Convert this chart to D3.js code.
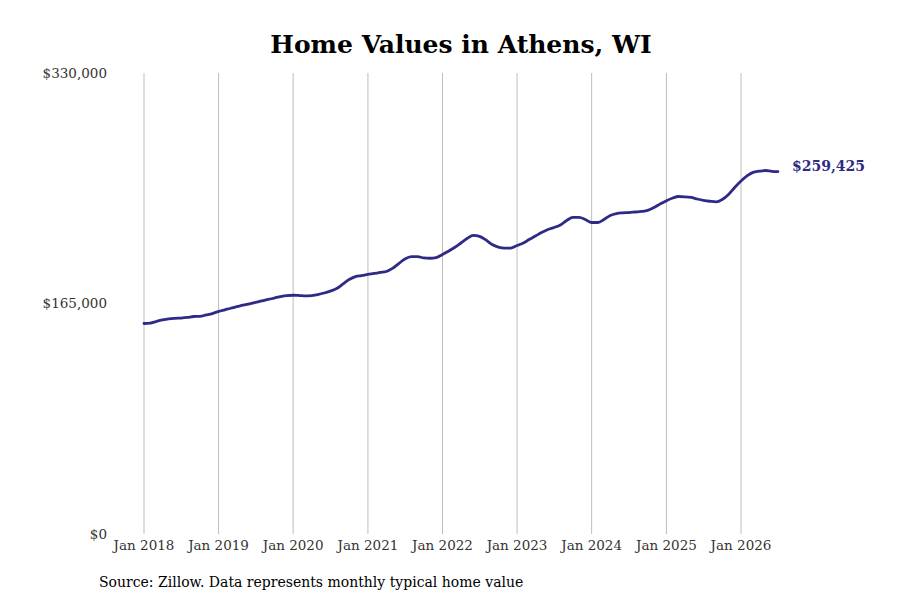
<!DOCTYPE html>
<html>
<head>
<meta charset="utf-8">
<script src="https://cdn.jsdelivr.net/npm/d3@7"></script>
<style>
  html, body { margin: 0; padding: 0; background: #fff; }
  svg { display: block; }
</style>
</head>
<body>
<svg id="chart" width="900" height="600"></svg>
<script>
const title = "Home Values in Athens, WI";
const source = "Source: Zillow. Data represents monthly typical home value";
const startYear = 2018;
const startMonth = 0; // January
const values = [
  150700, 151000, 152100, 153200, 154000, 154400, 154600, 155000, 155700, 155800, 156800, 157800,
  159300, 160500, 161600, 162700, 163800, 164800, 165800, 166800, 167900, 168900, 170000, 170700,
  170900, 170700, 170400, 170700, 171400, 172500, 173900, 175700, 179000, 182200, 184300, 185000,
  185800, 186500, 187200, 187900, 190100, 193600, 196900, 198600, 198600, 197600, 197400, 197900,
  200100, 202600, 205100, 208300, 211500, 213700, 213000, 210500, 207200, 205400, 204700, 204700,
  206500, 208300, 210800, 213300, 215800, 218000, 219400, 221200, 224400, 226600, 226600, 225100,
  223000, 223000, 225100, 228000, 229400, 229900, 230100, 230500, 230900, 231600, 233700, 236200,
  238600, 240500, 241600, 241400, 240900, 239800, 238900, 238200, 237700, 239400, 243000, 248000,
  252700, 256600, 258900, 259700, 260200, 259600, 259425
];
const xTickLabels = ["Jan 2018", "Jan 2019", "Jan 2020", "Jan 2021", "Jan 2022", "Jan 2023", "Jan 2024", "Jan 2025", "Jan 2026"];
const yTickValues = [0, 165000, 330000];
const lastLabel = "$259,425";

const data = values.map((v, i) => ({ date: new Date(startYear, startMonth + i, 1), value: v }));
const tickDates = xTickLabels.map((s, i) => new Date(startYear + i, 0, 1));

const svg = d3.select("#chart");
const color = "#2e2a86";
const font = "'DejaVu Serif', serif";

const x = d3.scaleTime()
  .domain([new Date(2018, 0, 1), new Date(2026, 0, 1)])
  .range([144, 741]);
const y = d3.scaleLinear().domain([0, 330000]).range([534, 73]);

// title
svg.append("text")
  .attr("x", 461).attr("y", 53)
  .attr("text-anchor", "middle")
  .attr("font-family", font).attr("font-weight", "bold")
  .attr("font-size", 25).attr("fill", "#000")
  .text(title);

// vertical grid lines
svg.append("g").selectAll("line").data(tickDates).join("line")
  .attr("x1", d => x(d)).attr("x2", d => x(d))
  .attr("y1", y(330000)).attr("y2", 534)
  .attr("stroke", "#bdbdbd").attr("stroke-width", 1);

// x labels
svg.append("g").selectAll("text").data(tickDates).join("text")
  .attr("x", d => x(d)).attr("y", 550)
  .attr("text-anchor", "middle")
  .attr("font-family", font).attr("font-size", 13.5).attr("fill", "#333")
  .text((d, i) => xTickLabels[i]);

// y labels
const fmt = d3.format("$,");
svg.append("g").selectAll("text").data(yTickValues).join("text")
  .attr("x", 107).attr("y", d => y(d))
  .attr("dy", "0.35em")
  .attr("text-anchor", "end")
  .attr("font-family", font).attr("font-size", 13.5).attr("fill", "#333")
  .text(d => fmt(d));

// line
const line = d3.line()
  .x(d => x(d.date)).y(d => y(d.value))
  .curve(d3.curveMonotoneX);
svg.append("path").datum(data)
  .attr("d", line)
  .attr("fill", "none")
  .attr("stroke", color)
  .attr("stroke-width", 2.8)
  .attr("stroke-linejoin", "round")
  .attr("stroke-linecap", "round");

// end label
const last = data[data.length - 1];
svg.append("text")
  .attr("x", x(last.date) + 14).attr("y", y(last.value))
  .attr("dy", "-0.05em")
  .attr("font-family", font).attr("font-weight", "bold")
  .attr("font-size", 14).attr("fill", color)
  .text(lastLabel);

// source
svg.append("text")
  .attr("x", 99).attr("y", 587)
  .attr("font-family", font).attr("font-size", 14).attr("fill", "#000")
  .text(source);
</script>
</body>
</html>
